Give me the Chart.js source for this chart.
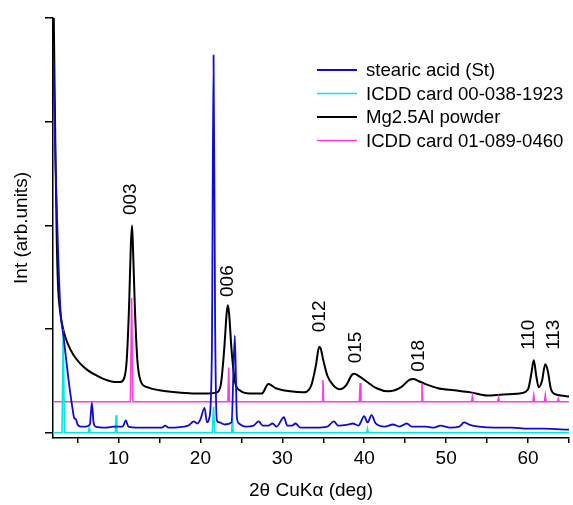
<!DOCTYPE html>
<html>
<head>
<meta charset="utf-8">
<script src="https://cdn.jsdelivr.net/npm/chart.js@4.4.0/dist/chart.umd.min.js"></script>
<style>
  html, body { margin: 0; padding: 0; background: #fff; }
  canvas { display: block; }
</style>
</head>
<body>
<canvas id="xrd" width="573" height="505"></canvas>
<script>
// stearic acid (St)
var stTheta = [2.05, 2.3, 2.6, 2.9, 3.3, 3.9, 4.35, 4.6, 4.8, 5.0, 5.4, 6.0, 6.5, 6.75, 6.95, 7.2, 8.5, 9.4, 10.5, 10.9,
  11.2, 12.5, 15.3, 15.7, 16.1, 18.5, 19.2, 19.6, 20.0, 20.5, 20.8, 21.1, 21.4, 21.6, 21.8, 22.0, 22.3, 23.0, 23.8, 24.2,
  24.45, 24.7, 25.5, 26.5, 27.1, 27.6, 28.3, 28.8, 29.3, 30.2, 30.6, 31.2, 31.6, 32.2, 34.0, 35.5, 36.3, 36.8, 38.0, 38.6,
  39.3, 40.0, 40.4, 40.9, 41.4, 42.5, 43.5, 44.3, 45.2, 45.8, 47.5, 48.5, 49.3, 50.5, 51.6, 52.2, 52.8, 54, 56, 58,
  60, 62, 65];
var stInt = [3.6, 2.6, 1.8, 1.2, 0.92, 0.51, 0.25, 0.14, 0.13, 0.08, 0.06, 0.06, 0.08, 0.29, 0.1, 0.06, 0.05, 0.06, 0.06, 0.12,
  0.06, 0.05, 0.05, 0.07, 0.05, 0.07, 0.11, 0.09, 0.13, 0.24, 0.1, 0.15, 0.8, 3.64, 1.0, 0.12, 0.1, 0.08, 0.1, 0.94,
  0.15, 0.09, 0.06, 0.07, 0.11, 0.07, 0.07, 0.09, 0.06, 0.15, 0.07, 0.07, 0.09, 0.05, 0.05, 0.06, 0.11, 0.07, 0.08, 0.09,
  0.07, 0.16, 0.1, 0.17, 0.09, 0.06, 0.08, 0.06, 0.09, 0.06, 0.06, 0.05, 0.07, 0.05, 0.06, 0.1, 0.08, 0.06, 0.05, 0.05,
  0.04, 0.04, 0.03];

// ICDD card 00-038-1923
var card1Theta = [2.0, 3.1, 3.25, 3.4, 6.3, 6.4, 6.5, 9.6, 9.7, 9.8, 21.45, 21.6, 21.75, 23.8, 23.9, 24.0, 40.3, 40.4, 40.5, 65];
var card1Int = [0, 0, 1.0, 0, 0, 0.04, 0, 0, 0.17, 0, 0, 0.25, 0, 0, 0.15, 0, 0, 0.04, 0, 0];

// Mg2.5Al powder
var mgTheta = [2.05, 2.2, 2.3, 2.45, 2.6, 2.9, 3.3, 3.8, 4.5, 5.3, 6.3, 7.4, 8.5, 9.5, 10.2, 10.7, 11.0, 11.3, 11.5, 11.65,
  11.8, 12.0, 12.3, 12.7, 13.5, 15, 17, 19, 21, 22.0, 22.5, 22.9, 23.2, 23.35, 23.5, 23.8, 24.2, 24.8, 26, 27.5,
  28.3, 29.2, 31, 32.5, 33.5, 34.1, 34.5, 34.7, 35.0, 35.5, 36.2, 37.0, 37.8, 38.5, 38.8, 39.3, 40.2, 41.5, 43, 44.5,
  45.5, 46.0, 46.6, 47.5, 49, 51, 53, 55, 57, 59, 60.0, 60.4, 60.7, 61.0, 61.3, 61.7, 62.1, 62.4, 62.8, 63.4,
  64, 65];
var mgInt = [4.3, 3.3, 2.7, 1.9, 1.45, 1.15, 0.98, 0.86, 0.75, 0.67, 0.6, 0.55, 0.51, 0.49, 0.49, 0.53, 0.7, 1.25, 1.8, 2.0,
  1.7, 1.2, 0.7, 0.5, 0.44, 0.41, 0.39, 0.38, 0.38, 0.39, 0.47, 0.8, 1.15, 1.23, 1.15, 0.8, 0.5, 0.41, 0.38, 0.38,
  0.47, 0.43, 0.4, 0.39, 0.45, 0.65, 0.83, 0.81, 0.7, 0.55, 0.46, 0.42, 0.46, 0.56, 0.57, 0.55, 0.5, 0.43, 0.4, 0.44,
  0.51, 0.52, 0.5, 0.47, 0.43, 0.41, 0.39, 0.36, 0.37, 0.38, 0.42, 0.57, 0.70, 0.55, 0.44, 0.5, 0.66, 0.6, 0.42, 0.37,
  0.36, 0.35];

// ICDD card 01-089-0460
var card2Theta = [2.0, 11.45, 11.6, 11.75, 23.35, 23.45, 23.55, 34.85, 34.95, 35.05, 39.4, 39.5, 39.6, 46.95, 47.05, 47.15,
  53.1, 53.2, 53.3, 56.3, 56.4, 56.5, 60.6, 60.7, 60.8, 62.0, 62.1, 62.2, 63.6, 63.7, 63.8, 65];
var card2Int = [0.3, 0.3, 1.3, 0.3, 0.3, 0.63, 0.3, 0.3, 0.51, 0.3, 0.3, 0.48, 0.3, 0.3, 0.48, 0.3,
  0.3, 0.35, 0.3, 0.3, 0.34, 0.3, 0.3, 0.36, 0.3, 0.3, 0.36, 0.3, 0.3, 0.33, 0.3, 0.3];

var seriesLabels = ['stearic acid (St)', 'ICDD card 00-038-1923', 'Mg2.5Al powder', 'ICDD card 01-089-0460'];

// reflection labels (hkl), where each label starts
var peakLabels = ['003', '006', '012', '015', '018', '110', '113'];
var peakTheta = [11.5, 23.3, 34.6, 39.0, 46.7, 60.1, 63.2];
var peakLabelInt = [2.10, 1.31, 0.97, 0.67, 0.59, 0.80, 0.80];

var xTicks = [5, 10, 15, 20, 25, 30, 35, 40, 45, 50, 55, 60, 65];
var yTicks = [0, 1, 2, 3, 4];

function toPoints(xs, ys) {
  return xs.map(function (x, i) { return { x: x, y: ys[i] }; });
}

var FONT = '"Liberation Sans", Arial, sans-serif';
Chart.defaults.font.family = FONT;
Chart.defaults.color = '#000';

var peakText = {
  id: 'peakText',
  afterDatasetsDraw: function (chart) {
    var ctx = chart.ctx, xs = chart.scales.x, ys = chart.scales.y;
    ctx.save();
    ctx.font = '19px ' + FONT;
    ctx.fillStyle = '#000';
    ctx.textAlign = 'left';
    ctx.textBaseline = 'middle';
    peakLabels.forEach(function (t, i) {
      ctx.save();
      ctx.translate(xs.getPixelForValue(peakTheta[i]), ys.getPixelForValue(peakLabelInt[i]));
      ctx.rotate(-Math.PI / 2);
      ctx.fillText(t, 0, 0);
      ctx.restore();
    });
    ctx.restore();
  }
};

// line-sample legend inside the plot, top right
var lineLegend = {
  id: 'lineLegend',
  afterDraw: function (chart) {
    var ctx = chart.ctx;
    var x0 = chart.chartArea.right - 252, y0 = 70;
    ctx.save();
    ctx.font = '18.6px ' + FONT;
    ctx.textBaseline = 'middle';
    ctx.textAlign = 'left';
    chart.data.datasets.forEach(function (ds, i) {
      var y = y0 + i * 23.5;
      ctx.strokeStyle = ds.borderColor;
      ctx.lineWidth = ds.borderWidth;
      ctx.beginPath();
      ctx.moveTo(x0, y);
      ctx.lineTo(x0 + 40, y);
      ctx.stroke();
      ctx.fillStyle = '#000';
      ctx.fillText(ds.label, x0 + 49, y + 1);
    });
    ctx.restore();
  }
};

new Chart(document.getElementById('xrd'), {
  type: 'line',
  data: {
    datasets: [{
      label: seriesLabels[0],
      data: toPoints(stTheta, stInt),
      borderColor: 'rgb(12,12,215)',
      borderWidth: 1.8,
      cubicInterpolationMode: 'monotone',
      order: 0
    }, {
      label: seriesLabels[1],
      data: toPoints(card1Theta, card1Int),
      borderColor: 'rgb(0,232,232)',
      borderWidth: 1.6,
      order: 1
    }, {
      label: seriesLabels[2],
      data: toPoints(mgTheta, mgInt),
      borderColor: '#000',
      borderWidth: 2,
      cubicInterpolationMode: 'monotone',
      order: 3
    }, {
      label: seriesLabels[3],
      data: toPoints(card2Theta, card2Int),
      borderColor: 'rgb(255,60,228)',
      borderWidth: 1.6,
      order: 2
    }]
  },
  options: {
    responsive: false,
    animation: false,
    devicePixelRatio: 1,
    layout: { padding: { top: 18, right: 4, left: 0, bottom: 0 } },
    elements: { point: { radius: 0 } },
    plugins: { legend: { display: false }, tooltip: { enabled: false } },
    scales: {
      x: {
        type: 'linear',
        min: 2,
        max: 65,
        afterBuildTicks: function (scale) {
          scale.ticks = xTicks.map(function (v) { return { value: v }; });
        },
        afterFit: function (scale) { scale.height = 67; },
        ticks: {
          font: { size: 19 },
          padding: 4,
          maxRotation: 0,
          callback: function (v) { return v % 10 === 0 ? String(v) : ''; }
        },
        grid: { drawOnChartArea: false, drawTicks: true, tickLength: 5, color: '#000', lineWidth: 1.5 },
        border: { display: true, color: '#000', width: 1.5 },
        title: { display: true, text: '2θ CuKα (deg)', font: { size: 19 }, padding: { top: 0, bottom: 3 } }
      },
      y: {
        type: 'linear',
        min: -0.05,
        max: 4,
        afterBuildTicks: function (scale) {
          scale.ticks = yTicks.map(function (v) { return { value: v }; });
        },
        afterFit: function (scale) { scale.width = 53; },
        ticks: { display: false },
        grid: { drawOnChartArea: false, drawTicks: true, tickLength: 8, color: '#000', lineWidth: 1.5 },
        border: { display: true, color: '#000', width: 1.5 },
        title: { display: true, text: 'Int (arb.units)', font: { size: 19 }, padding: { top: 10, bottom: 0 } }
      }
    }
  },
  plugins: [peakText, lineLegend]
});
</script>
</body>
</html>
